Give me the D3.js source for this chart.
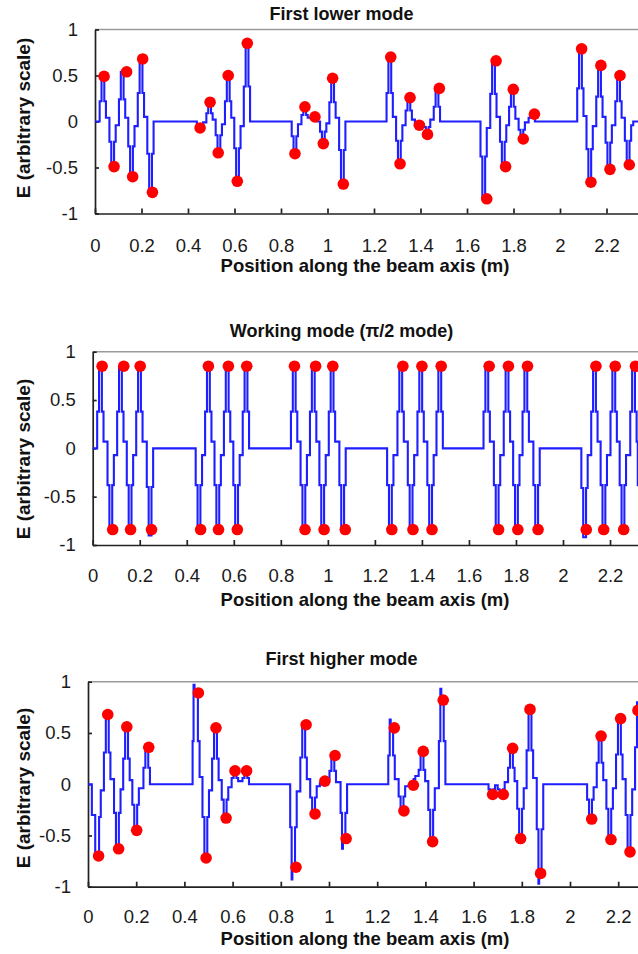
<!DOCTYPE html>
<html lang="en">
<head>
<meta charset="UTF-8">
<title>Field along the beam axis</title>
<style>
  body { margin: 0; background: #fff; }
  svg { display: block; }
  .tick text { font-family: "Liberation Sans", Arial, sans-serif; font-size: 18.5px; fill: #1a1a1a; }
  .axis path, .axis line { stroke: #222; stroke-width: 1.7; }
  .lbl { font-family: "Liberation Sans", Arial, sans-serif; font-weight: bold; fill: #111; }
</style>
<script src="https://cdn.jsdelivr.net/npm/d3@7"></script>
</head>
<body>
<svg id="chart" width="638" height="954"></svg>
<script>
// ---- data ----
const titles = ["First lower mode", "Working mode (\u03c0/2 mode)", "First higher mode"];
const xTicks = [0, 0.2, 0.4, 0.6, 0.8, 1, 1.2, 1.4, 1.6, 1.8, 2, 2.2];
const yTicks = [-1, -0.5, 0, 0.5, 1];

// red markers: cell peak positions (m) and field values
const lowerX = [0.039,0.082,0.136,0.162,0.205,0.247, 0.452,0.495,0.530,0.573,0.612,0.655,
  0.860,0.903,0.946,0.982,1.022,1.068, 1.272,1.312,1.355,1.395,1.430,1.481,
  1.685,1.725,1.766,1.799,1.842,1.890, 2.093,2.133,2.176,2.215,2.258,2.298];
const lowerE = [0.49,-0.49,0.54,-0.60,0.68,-0.77, -0.07,0.21,-0.34,0.50,-0.65,0.85,
  -0.35,0.16,0.05,-0.24,0.47,-0.68, 0.70,-0.46,0.26,-0.04,-0.14,0.36,
  -0.84,0.66,-0.49,0.35,-0.19,0.08, 0.79,-0.66,0.61,-0.52,0.50,-0.47];

const workX = [0.040,0.085,0.132,0.161,0.202,0.250, 0.459,0.492,0.535,0.577,0.615,0.655,
  0.858,0.903,0.948,0.984,1.021,1.074, 1.272,1.319,1.362,1.400,1.443,1.482,
  1.686,1.726,1.768,1.808,1.849,1.894, 2.099,2.140,2.173,2.222,2.258,2.308];
const workE = [0.85,-0.84,0.85,-0.84,0.85,-0.84, -0.84,0.85,-0.84,0.85,-0.84,0.85,
  0.85,-0.84,0.85,-0.84,0.85,-0.84, -0.84,0.85,-0.84,0.85,-0.84,0.85,
  0.85,-0.84,0.85,-0.84,0.85,-0.84, -0.84,0.85,-0.84,0.85,-0.84,0.85];

const higherX = [0.044,0.082,0.127,0.161,0.202,0.252, 0.458,0.490,0.531,0.573,0.610,0.658,
  0.863,0.905,0.942,0.983,1.025,1.071, 1.271,1.311,1.350,1.391,1.430,1.474,
  1.679,1.723,1.762,1.795,1.834,1.878, 2.090,2.129,2.170,2.210,2.249,2.282];
const higherE = [-0.70,0.68,-0.63,0.56,-0.45,0.36, 0.89,-0.72,0.55,-0.33,0.13,0.13,
  -0.81,0.58,-0.29,0.03,0.28,-0.53, 0.55,-0.26,-0.01,0.32,-0.56,0.82,
  -0.10,-0.10,0.35,-0.53,0.73,-0.87, -0.34,0.47,-0.54,0.64,-0.66,0.72];

// blue stepped field profile: [position (m), E] vertices, value held until next vertex
const lowerTrace = [[0,0],
  [0.020,0.22],[0.028,0.49],[0.040,0.22],[0.047,0.04],
  [0.062,-0.22],[0.070,-0.49],[0.082,-0.22],[0.089,-0.04],
  [0.103,0.24],[0.111,0.54],[0.123,0.24],[0.130,0.04],
  [0.143,-0.27],[0.151,-0.60],[0.163,-0.27],[0.170,-0.05],
  [0.184,0.31],[0.192,0.68],[0.204,0.31],[0.211,0.05],
  [0.225,-0.35],[0.233,-0.77],[0.245,-0.35],[0.252,0],
  [0.438,-0.03],[0.446,-0.07],[0.458,-0.03],[0.465,-0.01],
  [0.479,0.09],[0.487,0.21],[0.499,0.09],[0.506,0.02],
  [0.519,-0.15],[0.527,-0.34],[0.539,-0.15],[0.546,-0.03],
  [0.559,0.22],[0.567,0.50],[0.579,0.22],[0.586,0.04],
  [0.599,-0.29],[0.607,-0.65],[0.619,-0.29],[0.626,-0.05],
  [0.640,0.38],[0.648,0.85],[0.660,0.38],[0.667,0],
  [0.846,-0.16],[0.854,-0.35],[0.866,-0.16],[0.873,-0.03],
  [0.888,0.07],[0.896,0.16],[0.908,0.07],[0.915,0.04],
  [0.930,0.04],[0.936,0.05],[0.950,0.02],[0.957,0],
  [0.968,-0.11],[0.976,-0.24],[0.988,-0.11],[0.995,-0.02],
  [1.008,0.21],[1.016,0.47],[1.028,0.21],[1.035,0.04],
  [1.050,-0.31],[1.058,-0.68],[1.070,-0.31],[1.077,0],
  [1.254,0.31],[1.262,0.70],[1.274,0.31],[1.281,0.05],
  [1.295,-0.21],[1.303,-0.46],[1.315,-0.21],[1.322,-0.04],
  [1.336,0.12],[1.344,0.26],[1.356,0.12],[1.363,0.02],
  [1.376,-0.02],[1.384,-0.04],[1.396,-0.03],[1.403,-0.03],
  [1.415,-0.06],[1.423,-0.14],[1.435,-0.06],[1.442,0.02],
  [1.457,0.16],[1.465,0.36],[1.477,0.16],[1.484,0],
  [1.658,-0.38],[1.666,-0.84],[1.678,-0.38],[1.685,-0.07],
  [1.700,0.30],[1.708,0.66],[1.720,0.30],[1.727,0.05],
  [1.742,-0.22],[1.750,-0.49],[1.762,-0.22],[1.769,-0.04],
  [1.781,0.16],[1.789,0.35],[1.801,0.16],[1.808,0.03],
  [1.822,-0.09],[1.830,-0.19],[1.842,-0.09],[1.849,-0.01],
  [1.865,0.04],[1.873,0.08],[1.885,0.04],[1.892,0],
  [2.074,0.36],[2.082,0.79],[2.094,0.36],[2.101,0.06],
  [2.114,-0.30],[2.122,-0.66],[2.134,-0.30],[2.141,-0.05],
  [2.156,0.27],[2.164,0.61],[2.176,0.27],[2.183,0.05],
  [2.196,-0.23],[2.204,-0.52],[2.216,-0.23],[2.223,-0.04],
  [2.238,0.22],[2.246,0.50],[2.258,0.22],[2.265,0.04],
  [2.279,-0.21],[2.287,-0.47],[2.299,-0.21],[2.306,-0.04],
  [2.315,0],[2.34,0]];

const workTrace = [[0,0],
  [0.019,0.38],[0.027,0.85],[0.039,0.38],[0.046,0.07],
  [0.063,-0.38],[0.071,-0.85],[0.083,-0.38],[0.090,-0.07],
  [0.104,0.38],[0.112,0.85],[0.124,0.38],[0.131,0.07],
  [0.145,-0.38],[0.153,-0.85],[0.165,-0.38],[0.172,-0.07],
  [0.185,0.38],[0.193,0.85],[0.205,0.38],[0.212,0.07],
  [0.230,-0.40],[0.238,-0.90],[0.250,-0.40],[0.257,0],
  [0.438,-0.38],[0.446,-0.85],[0.458,-0.38],[0.465,-0.07],
  [0.478,0.38],[0.486,0.85],[0.498,0.38],[0.505,0.07],
  [0.518,-0.38],[0.526,-0.85],[0.538,-0.38],[0.545,-0.07],
  [0.558,0.38],[0.566,0.85],[0.578,0.38],[0.585,0.07],
  [0.598,-0.38],[0.606,-0.85],[0.618,-0.38],[0.625,-0.07],
  [0.638,0.38],[0.646,0.85],[0.658,0.38],[0.665,0],
  [0.843,0.38],[0.851,0.85],[0.863,0.38],[0.870,0.07],
  [0.884,-0.38],[0.892,-0.85],[0.904,-0.38],[0.911,-0.07],
  [0.924,0.38],[0.932,0.85],[0.944,0.38],[0.951,0.07],
  [0.964,-0.38],[0.972,-0.85],[0.984,-0.38],[0.991,-0.07],
  [1.004,0.38],[1.012,0.85],[1.024,0.38],[1.031,0.07],
  [1.049,-0.38],[1.057,-0.85],[1.069,-0.38],[1.076,0],
  [1.252,-0.38],[1.260,-0.85],[1.272,-0.38],[1.279,-0.07],
  [1.296,0.38],[1.304,0.85],[1.316,0.38],[1.323,0.07],
  [1.340,-0.38],[1.348,-0.85],[1.360,-0.38],[1.367,-0.07],
  [1.381,0.38],[1.389,0.85],[1.401,0.38],[1.408,0.07],
  [1.423,-0.38],[1.431,-0.85],[1.443,-0.38],[1.450,-0.07],
  [1.462,0.38],[1.470,0.85],[1.482,0.38],[1.489,0],
  [1.662,0.38],[1.670,0.85],[1.682,0.38],[1.689,0.07],
  [1.706,-0.38],[1.714,-0.85],[1.726,-0.38],[1.733,-0.07],
  [1.748,0.38],[1.756,0.85],[1.768,0.38],[1.775,0.07],
  [1.788,-0.38],[1.796,-0.85],[1.808,-0.38],[1.815,-0.07],
  [1.828,0.38],[1.836,0.85],[1.848,0.38],[1.855,0.07],
  [1.874,-0.38],[1.882,-0.85],[1.894,-0.38],[1.901,0],
  [2.078,-0.41],[2.086,-0.92],[2.098,-0.41],[2.105,-0.07],
  [2.120,0.38],[2.128,0.85],[2.140,0.38],[2.147,0.07],
  [2.160,-0.38],[2.168,-0.85],[2.180,-0.38],[2.187,-0.07],
  [2.202,0.38],[2.210,0.85],[2.222,0.38],[2.229,0.07],
  [2.241,-0.38],[2.249,-0.85],[2.261,-0.38],[2.268,-0.07],
  [2.286,0.38],[2.294,0.85],[2.306,0.38],[2.313,0.07],
  [2.318,-0.38],[2.33,-0.38]];

const higherTrace = [[0,0],
  [0.016,-0.30],[0.030,-0.70],[0.046,-0.32],[0.053,-0.06],
  [0.066,0.31],[0.074,0.68],[0.086,0.31],[0.093,0.05],
  [0.108,-0.28],[0.116,-0.63],[0.128,-0.28],[0.135,-0.05],
  [0.146,0.25],[0.154,0.56],[0.166,0.25],[0.173,0.04],
  [0.184,-0.20],[0.192,-0.45],[0.204,-0.20],[0.211,-0.04],
  [0.230,0.16],[0.238,0.36],[0.250,0.16],[0.257,0],
  [0.434,0.42],[0.438,0.97],[0.442,0.89],[0.456,0.42],[0.463,0.07],
  [0.475,-0.32],[0.483,-0.72],[0.495,-0.32],[0.502,-0.06],
  [0.515,0.25],[0.523,0.55],[0.535,0.25],[0.542,0.04],
  [0.555,-0.15],[0.563,-0.33],[0.575,-0.15],[0.582,-0.03],
  [0.596,0.06],[0.604,0.13],[0.616,0.06],[0.623,0.03],
  [0.641,0.06],[0.649,0.13],[0.661,0.06],[0.668,0],
  [0.839,-0.42],[0.845,-0.93],[0.848,-0.81],[0.859,-0.42],[0.866,-0.07],
  [0.881,0.26],[0.889,0.58],[0.901,0.26],[0.908,0.05],
  [0.922,-0.13],[0.930,-0.29],[0.942,-0.13],[0.949,-0.02],
  [0.962,0.01],[0.970,0.03],[0.982,0.02],[0.989,0.05],
  [1.002,0.13],[1.010,0.28],[1.022,0.13],[1.029,0.02],
  [1.048,-0.28],[1.054,-0.63],[1.058,-0.53],[1.068,-0.28],[1.075,0],
  [1.246,0.28],[1.252,0.63],[1.256,0.55],[1.266,0.28],[1.273,0.05],
  [1.289,-0.12],[1.297,-0.26],[1.309,-0.12],[1.316,-0.02],
  [1.331,-0.01],[1.339,-0.01],[1.351,0.05],[1.358,0.08],
  [1.372,0.14],[1.380,0.32],[1.392,0.14],[1.399,0.03],
  [1.412,-0.25],[1.420,-0.56],[1.432,-0.25],[1.439,-0.04],
  [1.456,0.42],[1.462,0.93],[1.466,0.82],[1.476,0.42],[1.483,0],
  [1.662,-0.05],[1.670,-0.10],[1.682,-0.05],[1.689,-0.01],
  [1.700,-0.05],[1.708,-0.10],[1.722,-0.05],[1.729,0.02],
  [1.743,0.16],[1.751,0.35],[1.763,0.16],[1.770,0.03],
  [1.781,-0.24],[1.789,-0.53],[1.801,-0.24],[1.808,-0.04],
  [1.820,0.33],[1.828,0.73],[1.840,0.33],[1.847,0.06],
  [1.862,-0.44],[1.869,-0.97],[1.872,-0.87],[1.882,-0.44],[1.889,0],
  [2.071,-0.15],[2.079,-0.34],[2.091,-0.15],[2.098,-0.03],
  [2.111,0.21],[2.119,0.47],[2.131,0.21],[2.138,0.04],
  [2.151,-0.24],[2.159,-0.54],[2.171,-0.24],[2.178,-0.04],
  [2.191,0.29],[2.199,0.64],[2.211,0.29],[2.218,0.05],
  [2.231,-0.30],[2.239,-0.66],[2.251,-0.30],[2.258,-0.05],
  [2.270,0.36],[2.278,0.80],[2.29,0.80]];

// ---- layout of the three stacked panels (pixels) ----
const W = 638;
const panels = [
  { trace: lowerTrace,  xs: lowerX,  es: lowerE,  left: 95,   top: 29.5,  bottom: 213.5, pxPerM: 232.5,
    titleY: 20,  xPad: 25,   labelY: 272, yLabelY: 118 },
  { trace: workTrace,   xs: workX,   es: workE,   left: 92.7, top: 351.7, bottom: 545,   pxPerM: 235.15,
    titleY: 337, xPad: 24,   labelY: 606, yLabelY: 459 },
  { trace: higherTrace, xs: higherX, es: higherE, left: 88,   top: 681.7, bottom: 886.7, pxPerM: 241,
    titleY: 665, xPad: 23.5, labelY: 945, yLabelY: 788 }
];

const svg = d3.select("#chart");

panels.forEach((p, i) => {
  const x = d3.scaleLinear().domain([0, (W - p.left) / p.pxPerM]).range([p.left, W]);
  const y = d3.scaleLinear().domain([-1, 1]).range([p.bottom, p.top]);

  const clipId = "clip" + i;
  svg.append("clipPath").attr("id", clipId)
    .append("rect")
    .attr("x", p.left).attr("y", p.top - 8)
    .attr("width", W - p.left).attr("height", p.bottom - p.top + 16);

  // grey top frame
  svg.append("line")
    .attr("x1", p.left).attr("x2", W)
    .attr("y1", p.top).attr("y2", p.top)
    .attr("stroke", "#9a9a9a").attr("stroke-width", 1.6);

  // axes with inward ticks
  svg.append("g").attr("class", "axis")
    .attr("transform", `translate(0,${p.bottom})`)
    .call(d3.axisBottom(x).tickValues(xTicks)
      .tickFormat(d => String(+d.toFixed(1)))
      .tickSizeInner(-5).tickSizeOuter(0).tickPadding(p.xPad));

  svg.append("g").attr("class", "axis")
    .attr("transform", `translate(${p.left},0)`)
    .call(d3.axisLeft(y).tickValues(yTicks)
      .tickFormat(d => String(d))
      .tickSizeInner(-4).tickSizeOuter(0).tickPadding(17));

  // field profile
  const line = d3.line()
    .x(d => x(d[0]))
    .y(d => y(d[1]))
    .curve(d3.curveStepAfter);

  svg.append("path")
    .datum(p.trace)
    .attr("clip-path", `url(#${clipId})`)
    .attr("fill", "none")
    .attr("stroke", "#1e1eff")
    .attr("stroke-width", 2.1)
    .attr("d", line);

  // cell peak markers
  svg.append("g")
    .selectAll("circle")
    .data(p.xs.map((v, k) => [v, p.es[k]]))
    .join("circle")
    .attr("cx", d => x(d[0]))
    .attr("cy", d => y(d[1]))
    .attr("r", 5.8)
    .attr("fill", "#ff0000");

  // texts
  svg.append("text").attr("class", "lbl")
    .attr("x", 341.5).attr("y", p.titleY)
    .attr("text-anchor", "middle")
    .style("font-size", "18px")
    .text(titles[i]);

  svg.append("text").attr("class", "lbl")
    .attr("x", 365).attr("y", p.labelY)
    .attr("text-anchor", "middle")
    .style("font-size", "18.5px")
    .text("Position along the beam axis (m)");

  svg.append("text").attr("class", "lbl")
    .attr("transform", `translate(30,${p.yLabelY}) rotate(-90)`)
    .attr("text-anchor", "middle")
    .style("font-size", "19px")
    .text("E (arbitrary scale)");
});
</script>
</body>
</html>
